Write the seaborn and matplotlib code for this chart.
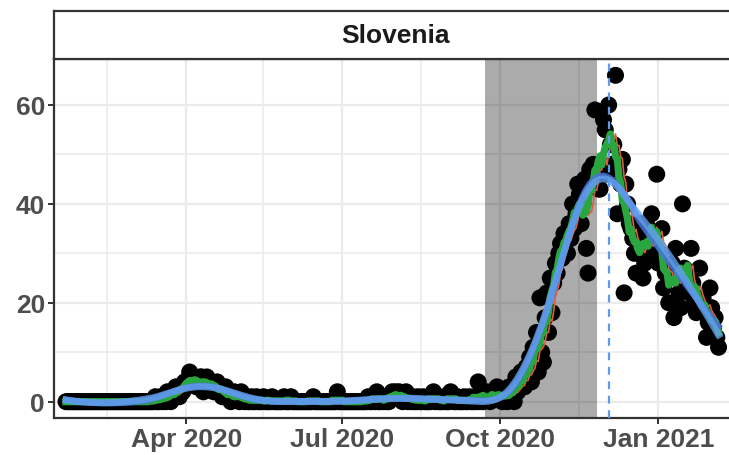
import numpy as np
import pandas as pd
import seaborn as sns
import matplotlib.pyplot as plt

# daily deaths, Slovenia, 2020-01-22 .. 2021-02-05
jan20 = [0, 0, 0, 0, 0, 0, 0, 0, 0, 0]
feb20 = [0, 0, 0, 0, 0, 0, 0, 0, 0, 0, 0, 0, 0, 0, 0, 0, 0, 0, 0, 0,
         0, 0, 0, 0, 0, 0, 0, 0, 0]
mar20 = [0, 0, 0, 0, 0, 0, 0, 0, 0, 0, 0, 0,
         0, 1, 0, 0, 1, 0, 1, 0, 2, 1, 0, 2, 1, 3, 2, 1, 3, 2, 4]
apr20 = [3, 4, 6, 4, 5, 4, 3, 4, 5, 5, 2, 4, 5, 3, 4, 4, 2, 3, 4, 2,
         3, 1, 2, 3, 1, 2, 0, 1, 2, 1]
may20 = [1, 0, 2, 1, 0, 1, 0, 0, 1, 0, 0, 1, 0, 0, 0, 1, 0, 0, 0, 0,
         1, 0, 0, 0, 0, 0, 0, 1, 0, 0, 0]
jun20 = [1, 0, 0, 0, 0, 0, 0, 0, 0, 0, 0, 0, 0, 1, 0, 0, 0, 0, 0, 0,
         0, 0, 0, 0, 0, 0, 0, 2, 0, 0]
jul20 = [0, 0, 0, 0, 0, 0, 0, 0, 0, 0, 0, 0, 0, 0, 0, 1, 0, 0, 1, 0,
         2, 0, 0, 1, 0, 1, 0, 0, 1, 2, 1]
aug20 = [2, 1, 2, 1, 0, 1, 2, 0, 1, 0, 1, 0, 0, 1, 0, 0, 1, 0, 0, 0,
         0, 1, 2, 0, 1, 0, 0, 0, 1, 0, 0]
sep20 = [0, 2, 1, 0, 0, 1, 0, 0, 0, 1, 0, 0, 1, 0, 0, 1, 0, 4, 0, 1,
         0, 1, 2, 1, 0, 1, 2, 1, 3, 1]
oct20 = [1, 0, 2, 1, 0, 3, 1, 2, 0, 5, 2, 3, 6, 4, 3, 7, 5, 9, 4, 11,
         8, 14, 6, 21, 10, 8, 17, 22, 14, 25, 18]
nov20 = [24, 28, 26, 30, 32, 29, 34, 34, 30, 36, 33, 40, 35, 38, 44, 42,
         36, 40, 45, 31, 26, 47, 44, 48, 59, 44, 43, 43, 47, 57]
dec20 = [55, 46, 60, 52, 48, 52, 66, 38, 47, 44, 49, 22, 44, 40, 36, 35,
         33, 30, 26, 32, 34, 36, 25, 28, 36, 33, 30, 38, 30, 34, 46]
jan21 = [28, 30, 35, 23, 26, 26, 20, 25, 28, 17, 31, 26, 22, 19, 40, 27,
         24, 25, 22, 31, 24, 20, 18, 21, 27, 19, 21, 18, 13, 16, 23]
feb21 = [19, 15, 17, 13, 11]

deaths = (jan20 + feb20 + mar20 + apr20 + may20 + jun20 + jul20 + aug20
          + sep20 + oct20 + nov20 + dec20 + jan21 + feb21)
dates = pd.date_range("2020-01-22", periods=len(deaths), freq="D")

shade_start, shade_end = "2020-09-22", "2020-11-26"
peak_date = "2020-12-03"
country = "Slovenia"
tick_dates = ["2020-04-01", "2020-07-01", "2020-10-01", "2021-01-01"]
tick_labels = ["Apr 2020", "Jul 2020", "Oct 2020", "Jan 2021"]


def loess(xv, yv, span):
    n = len(xv)
    k = int(np.ceil(span * n))
    out = np.empty(n)
    for i, x0 in enumerate(xv):
        d = np.abs(xv - x0)
        h = np.sort(d)[k - 1]
        w = np.clip(1 - (d / h) ** 3, 0, None) ** 3
        c = np.polyfit(xv - x0, yv, 2, w=np.sqrt(w))
        out[i] = c[-1]
    return out


df = pd.DataFrame({"date": dates, "deaths": deaths})
df["roll"] = df["deaths"].rolling(7, center=True, min_periods=1).mean()
df["roll_r"] = df["deaths"].rolling(7, min_periods=1).mean()
t = np.arange(len(df), dtype=float)
y = df["deaths"].values.astype(float)
df["smooth"] = loess(t, y, 0.28)
df["smooth2"] = loess(t, y, 0.25)

plt.rcParams["font.family"] = ["Liberation Sans", "DejaVu Sans"]
fig = plt.figure(figsize=(7.29, 4.56), dpi=100)
W, H = 729, 456
ax = fig.add_axes([54 / W, 1 - 419 / H, (734 - 54) / W, (419 - 60) / H])
strip = fig.add_axes([54 / W, 1 - 60 / H, (734 - 54) / W, (60 - 12) / H])

ax.set_facecolor("white")
ax.axvspan(pd.Timestamp(shade_start), pd.Timestamp(shade_end),
           color="black", alpha=0.33, lw=0, zorder=1)
sns.scatterplot(data=df, x="date", y="deaths", color="black", s=150,
                edgecolor="none", ax=ax, zorder=2)
sns.lineplot(data=df, x="date", y="roll_r", color="#E8583F", lw=1.2,
             ax=ax, zorder=3)
sns.lineplot(data=df, x="date", y="roll", color="#2AA640", lw=5.2,
             ax=ax, zorder=4)
sns.lineplot(data=df, x="date", y="smooth2", color="#4775D6", lw=4.5,
             alpha=0.85, ax=ax, zorder=5)
sns.lineplot(data=df, x="date", y="smooth", color="#63A0EE", lw=5,
             alpha=0.8, ax=ax, zorder=6)
ax.axvline(pd.Timestamp(peak_date), color="#5E9BF0", lw=1.6,
           linestyle=(0, (3.5, 3)), zorder=7)

ax.set_xlim(pd.Timestamp("2020-01-15"), pd.Timestamp("2021-02-14"))
ax.set_ylim(-3.3, 69.3)
ax.set_xticks(pd.to_datetime(tick_dates))
ax.set_xticklabels(tick_labels)
ax.set_xticks(pd.to_datetime(["2020-02-15", "2020-05-16", "2020-08-16",
                              "2020-11-16"]), minor=True)
ax.set_yticks([0, 20, 40, 60])
ax.set_yticks([10, 30, 50], minor=True)
ax.grid(True, which="major", color="#EBEBEB", lw=1.6, zorder=0)
ax.grid(True, which="minor", color="#EBEBEB", lw=1.2, zorder=0)
ax.set_axisbelow(True)
ax.tick_params(which="major", length=4.5, width=1.4, color="#333333",
               labelsize=19, labelcolor="#4D4D4D", pad=2)
ax.tick_params(which="minor", length=0)
for lab in ax.get_xticklabels() + ax.get_yticklabels():
    lab.set_fontweight("bold")
ax.set_xlabel("")
ax.set_ylabel("")
for sp in ax.spines.values():
    sp.set_color("#333333")
    sp.set_linewidth(1.6)
if ax.get_legend():
    ax.get_legend().remove()

strip.set_xticks([])
strip.set_yticks([])
strip.set_facecolor("white")
for sp in strip.spines.values():
    sp.set_color("#333333")
    sp.set_linewidth(1.6)
strip.text((395 - 54) / (734 - 54), 0.5, country, transform=strip.transAxes,
           ha="center", va="center", fontsize=19, fontweight="bold",
           color="#1A1A1A")

fig.savefig("out.png", dpi=100)
